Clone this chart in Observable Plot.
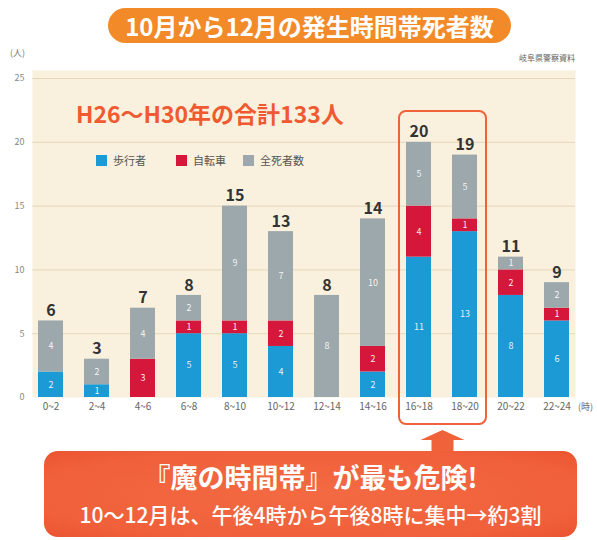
<!DOCTYPE html>
<html><head><meta charset="utf-8">
<script src="https://cdn.jsdelivr.net/npm/d3@7"></script>
<script src="https://cdn.jsdelivr.net/npm/@observablehq/plot@0.6"></script>
<style>
body{margin:0;background:#fff;font-family:"Noto Sans CJK JP","Noto Sans",sans-serif;}
#wrap{position:relative;width:597px;height:540px;overflow:hidden;background:#fff;}
.abs{position:absolute;}
#title{left:108px;top:8px;width:403px;height:35px;border-radius:18px;background:#f28a2a;color:#fff;font-weight:700;font-size:24px;line-height:35px;text-align:center;letter-spacing:0px;}
#unit{left:10px;top:46px;font-size:9px;color:#777;}
#source{right:22px;top:52px;font-size:8px;color:#666;}
#chart{left:0;top:60px;}
#total{left:76px;top:96px;font-size:23px;font-weight:700;color:#f05a30;white-space:nowrap;}
.lg{top:152px;font-size:11px;color:#555;display:flex;align-items:center;white-space:nowrap;}
.sw{width:11px;height:11px;margin-right:6px;display:inline-block;}
#hour{left:578px;top:400px;font-size:9px;color:#666;}
#box{border:2.5px solid #f0623a;border-radius:8px;box-sizing:border-box;}
#arrow{background:#f0623a;clip-path:polygon(50% 0,100% 45%,75% 45%,75% 100%,25% 100%,25% 45%,0 45%);}
#callout{left:44px;top:451px;width:533px;height:86px;border-radius:14px;background:radial-gradient(ellipse at center,#f36a42 0%,#f0603a 75%,#ea5530 100%);color:#fff;text-align:center;}
#c1{position:absolute;left:0;right:0;top:8px;font-size:27px;font-weight:700;line-height:36px;}
#c2{position:absolute;left:0;right:0;top:48px;font-size:21px;font-weight:500;line-height:30px;}
</style></head>
<body><div id="wrap">
<div id="title" class="abs">10月から12月の発生時間帯死者数</div>
<div id="unit" class="abs">(人)</div>
<div id="source" class="abs">岐阜県警察資料</div>
<div id="chart" class="abs"></div>
<div id="total" class="abs">H26～H30年の合計133人</div>
<div id="legend"></div>
<div id="hour" class="abs">(時)</div>
<div id="box" class="abs"></div>
<div id="arrow" class="abs"></div>
<div id="callout" class="abs"><div id="c1">『魔の時間帯』が最も危険!</div><div id="c2">10～12月は、午後4時から午後8時に集中→約3割</div></div>
</div>
<script>
const categories = ["0~2","2~4","4~6","6~8","8~10","10~12","12~14","14~16","16~18","18~20","20~22","22~24"];
const pedestrians = [2,1,0,5,5,4,0,2,11,13,8,6];
const bicycles   = [0,0,3,1,1,2,0,2,4,1,2,1];
const others     = [4,2,4,2,9,7,8,10,5,5,1,2];
const series = ["歩行者","自転車","全死者数"];
const colors = ["#1b9ad6","#d5173c","#9ca8ac"];
const yTicks = [0,5,10,15,20,25];

const values = [pedestrians, bicycles, others];
const totals = categories.map((c,i)=>pedestrians[i]+bicycles[i]+others[i]);
const rows = [];
series.forEach((s,k)=>categories.forEach((c,i)=>rows.push({cat:c, series:s, value:values[k][i]})));

const font = '"Noto Sans CJK JP","Noto Sans",sans-serif';
const plot = Plot.plot({
  width:597, height:380,
  marginLeft:32, marginRight:22, marginTop:10, marginBottom:43,
  style:{fontFamily:font, background:"transparent"},
  x:{domain:categories, paddingInner:0.45, paddingOuter:0.125, axis:null},
  y:{domain:[0,25.63], axis:null},
  color:{domain:series, range:colors},
  marks:[
    Plot.frame({fill:"#f9f0dd", stroke:null}),
    Plot.gridY(yTicks.filter(t=>t>0), {stroke:"#e4d7bc", strokeOpacity:1}),
    Plot.barY(rows, {x:"cat", y:"value", fill:"series", order:series}),
    Plot.text(rows.filter(d=>d.value>0), Plot.stackY({x:"cat", y:"value", z:"series", order:series, text:d=>String(d.value), fill:"white", fontSize:9, fillOpacity:0.9})),
    Plot.text(categories, {x:categories, y:totals, text:totals.map(String), dy:-10, fontWeight:"bold", fontSize:16, fill:"#333"}),
    Plot.axisX({tickSize:0, tickPadding:5, fontSize:10, color:"#666", label:null}),
    Plot.axisY({ticks:yTicks, tickSize:0, tickPadding:8, fontSize:9, color:"#888", label:null})
  ]
});
document.getElementById("chart").appendChild(plot);

// legend built from series/colors
const legendPos = [96,176,243];
const lg = document.getElementById("legend");
series.forEach((s,k)=>{
  const d = document.createElement("div");
  d.className = "abs lg";
  d.style.left = legendPos[k]+"px";
  d.innerHTML = `<span class="sw" style="background:${colors[k]}"></span>${s}`;
  lg.appendChild(d);
});

// highlight box from scales
const xs = plot.scale("x"), ys = plot.scale("y");
const bw = xs.bandwidth;
const top0 = 60;
const bl = xs.apply("16~18") - 8, br = xs.apply("18~20") + bw + 10;
const bt = top0 + ys.apply(20) - 32, bb = top0 + ys.apply(0) + 28;
const box = document.getElementById("box");
box.style.left = bl+"px"; box.style.top = bt+"px";
box.style.width = (br-bl)+"px"; box.style.height = (bb-bt)+"px";
const arrow = document.getElementById("arrow");
const cx = (bl+br)/2;
arrow.style.left = (cx-22)+"px"; arrow.style.top = (bb+5)+"px";
arrow.style.width = "44px"; arrow.style.height = (451-bb-4)+"px";
</script>
</body></html>
